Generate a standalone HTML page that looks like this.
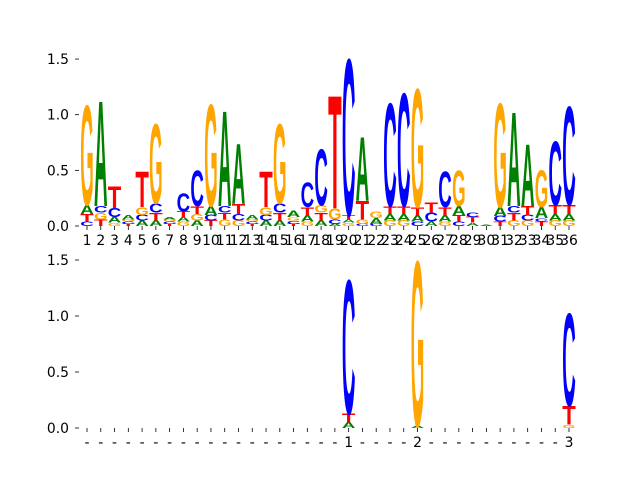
<!DOCTYPE html>
<html><head><meta charset="utf-8"><style>
html,body{margin:0;padding:0;background:#fff;}
svg{display:block;font-family:"DejaVu Sans","Liberation Sans",sans-serif;}
</style></head><body>
<svg id="chart" width="640" height="480" viewBox="0 0 640 480" xmlns="http://www.w3.org/2000/svg"></svg>
<script>
// Each position: stack of [letter, height] bottom to top
const topStacks = [
 [["C",.04],["T",.07],["A",.08],["G",.90]],
 [["T",.06],["G",.06],["C",.06],["A",.95]],
 [["G",.03],["A",.05],["C",.08],["T",.20]],
 [["T",.02],["C",.02],["G",.02],["A",.04]],
 [["A",.05],["C",.05],["G",.07],["T",.32]],
 [["A",.05],["T",.07],["C",.08],["G",.72]],
 [["T",.02],["C",.02],["G",.02],["A",.02]],
 [["G",.04],["A",.04],["T",.05],["C",.16]],
 [["A",.05],["G",.06],["T",.07],["C",.32]],
 [["T",.05],["C",.05],["A",.08],["G",.92]],
 [["G",.06],["T",.06],["C",.06],["A",.86]],
 [["G",.05],["C",.06],["T",.09],["A",.54]],
 [["T",.02],["C",.02],["G",.02],["A",.04]],
 [["A",.05],["C",.05],["G",.07],["T",.32]],
 [["A",.05],["T",.07],["C",.08],["G",.72]],
 [["T",.02],["C",.03],["G",.03],["A",.06]],
 [["G",.04],["A",.06],["T",.07],["C",.22]],
 [["A",.05],["T",.07],["G",.07],["C",.51]],
 [["A",.02],["C",.04],["G",.10],["T",1.02]],
 [["G",.03],["A",.03],["T",.04],["C",1.41]],
 [["C",.02],["G",.04],["T",.17],["A",.58]],
 [["C",.02],["A",.05],["G",.06]],
 [["G",.05],["A",.06],["T",.07],["C",.93]],
 [["G",.05],["A",.06],["T",.07],["C",1.02]],
 [["C",.04],["A",.06],["T",.07],["G",1.07]],
 [["A",.04],["C",.08],["T",.09]],
 [["G",.04],["A",.06],["T",.07],["C",.32]],
 [["C",.04],["T",.06],["A",.08],["G",.32]],
 [["A",.03],["T",.05],["C",.04]],
 [["A",.01]],
 [["T",.04],["C",.05],["A",.08],["G",.94]],
 [["G",.05],["T",.07],["C",.06],["A",.85]],
 [["G",.05],["C",.05],["T",.08],["A",.56]],
 [["T",.04],["C",.03],["A",.10],["G",.33]],
 [["G",.05],["A",.06],["T",.08],["C",.58]],
 [["G",.05],["A",.06],["T",.08],["C",.89]]
];
const bottomStacks = {20:[["A",.05],["T",.08],["C",1.20]], 25:[["A",.02],["G",1.48]], 36:[["G",.03],["T",.17],["C",.83]]};
const topTickLabels = Array.from({length:36},(_,i)=>String(i+1));
const bottomTickLabels = {20:"1",25:"2",36:"3"};
const yTicks = [0,0.5,1.0,1.5];
const yTickText = ["0.0","0.5","1.0","1.5"];

const colors = {A:"#008000",C:"#0000ff",G:"#ffa500",T:"#ff0000"};
const NS="http://www.w3.org/2000/svg";
const svgEl=document.getElementById('chart');
const step=(569-87)/35;
const FS=13.9;
function xPos(p){return 87+(p-1)*step;}
function mk(tag,attrs,parent){const e=document.createElementNS(NS,tag);for(const k in attrs)e.setAttribute(k,attrs[k]);(parent||svgEl).appendChild(e);return e;}

function panel(y0,pxPerUnit,name){
  const g=mk('g',{});
  
  
  const yS=v=>y0-v*pxPerUnit;
  yTicks.forEach((v,i)=>{
    const t=mk('line',{x1:75,x2:79,y1:yS(v),y2:yS(v),stroke:'#000','stroke-width':0.8},g);
    
    
    const tx=mk('text',{x:69,y:yS(v)+5,'text-anchor':'end','font-size':FS,fill:'#000'},g);
    tx.textContent=yTickText[i];
    
    
  });
  return {g,yS};
}
function drawStack(g,yS,pxPerUnit,p,stack){
  let base=0;
  const w=step*0.98;
  stack.forEach(([L,h])=>{
    const hp=h*pxPerUnit;
    if(hp>0.3){
      const fs=hp/0.70;
      const t=mk('text',{x:xPos(p)-w/2,y:yS(base),'font-size':fs,'font-family':'Liberation Sans, sans-serif','font-weight':'bold',fill:colors[L],textLength:w,lengthAdjust:'spacingAndGlyphs'},g);
      t.textContent=L;
      
      
    }
    base+=h;
  });
}
// top panel
const topPanel=panel(226,111.3,'top-logo-panel');
topStacks.forEach((s,i)=>drawStack(topPanel.g,topPanel.yS,111.3,i+1,s));
topTickLabels.forEach((lab,i)=>{
  const x=xPos(i+1);
  const t=mk('line',{x1:x,x2:x,y1:226,y2:230,stroke:'#000','stroke-width':0.8},topPanel.g);
  
  
  const tx=mk('text',{x:x,y:245,'text-anchor':'middle','font-size':FS,fill:'#000'},topPanel.g);
  tx.textContent=lab;
  
  
});
// bottom panel
const botPanel=panel(428,112,'bottom-logo-panel');
for(const p in bottomStacks) drawStack(botPanel.g,botPanel.yS,112,+p,bottomStacks[p]);
for(let p=1;p<=36;p++){
  const x=xPos(p);
  const t=mk('line',{x1:x,x2:x,y1:428,y2:432,stroke:'#000','stroke-width':0.8},botPanel.g);
  
  
  const tx=mk('text',{x:x,y:447,'text-anchor':'middle','font-size':FS,fill:'#000'},botPanel.g);
  tx.textContent=bottomTickLabels[p]||"-";
  
  
}
</script>
</body></html>
